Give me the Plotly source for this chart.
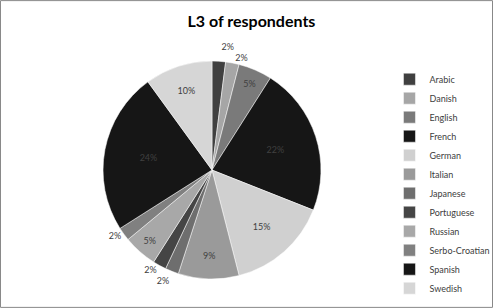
import plotly.graph_objects as go

languages = ["Arabic", "Danish", "English", "French", "German", "Italian",
             "Japanese", "Portuguese", "Russian", "Serbo-Croatian", "Spanish", "Swedish"]
shares = [2, 2, 5, 22, 15, 9, 2, 2, 5, 2, 24, 10]
colors = ["#404040", "#a6a6a6", "#7a7a7a", "#161616", "#d0d0d0", "#9a9a9a",
          "#6e6e6e", "#454545", "#a8a8a8", "#808080", "#161616", "#d6d6d6"]
positions = ["outside" if s <= 2 else "inside" for s in shares]

fig = go.Figure(go.Pie(
    labels=languages,
    values=shares,
    sort=False,
    direction="clockwise",
    rotation=0,
    marker=dict(colors=colors, line=dict(color="white", width=0.5)),
    texttemplate="%{percent:.0%}",
    textposition=positions,
    insidetextorientation="horizontal",
    textfont=dict(family="Lato, Open Sans, sans-serif", size=9, color="#404040"),
    domain=dict(x=[0.209, 0.651], y=[0.094, 0.802]),
    hoverinfo="label+percent",
))

fig.update_layout(
    width=493, height=308,
    margin=dict(l=0, r=0, t=0, b=0, autoexpand=False),
    paper_bgcolor="white",
    font=dict(family="Lato, Open Sans, sans-serif", color="#404040"),
    title=dict(text="<b>L3 of respondents</b>", x=0.51, xanchor="center",
               y=0.93, yanchor="middle",
               font=dict(size=16, color="#000000", family="Lato, Open Sans, sans-serif")),
    legend=dict(xref="container", yref="container", x=0.79, y=0.79,
                xanchor="left", yanchor="top", maxheight=300,
                font=dict(size=9, color="#404040"),
                itemwidth=30, tracegroupgap=0, bgcolor="rgba(0,0,0,0)"),
    shapes=[dict(type="rect", xref="paper", yref="paper", x0=0.001, x1=0.999,
                 y0=0.002, y1=0.998, line=dict(color="#888888", width=1))],
)

fig.write_html("out.html",
               config={"displayModeBar": False},
               post_script="document.body.style.margin='0';document.body.style.overflow='hidden';"
                           "document.querySelectorAll('path.textline').forEach(function(e){e.style.display='none';});")
